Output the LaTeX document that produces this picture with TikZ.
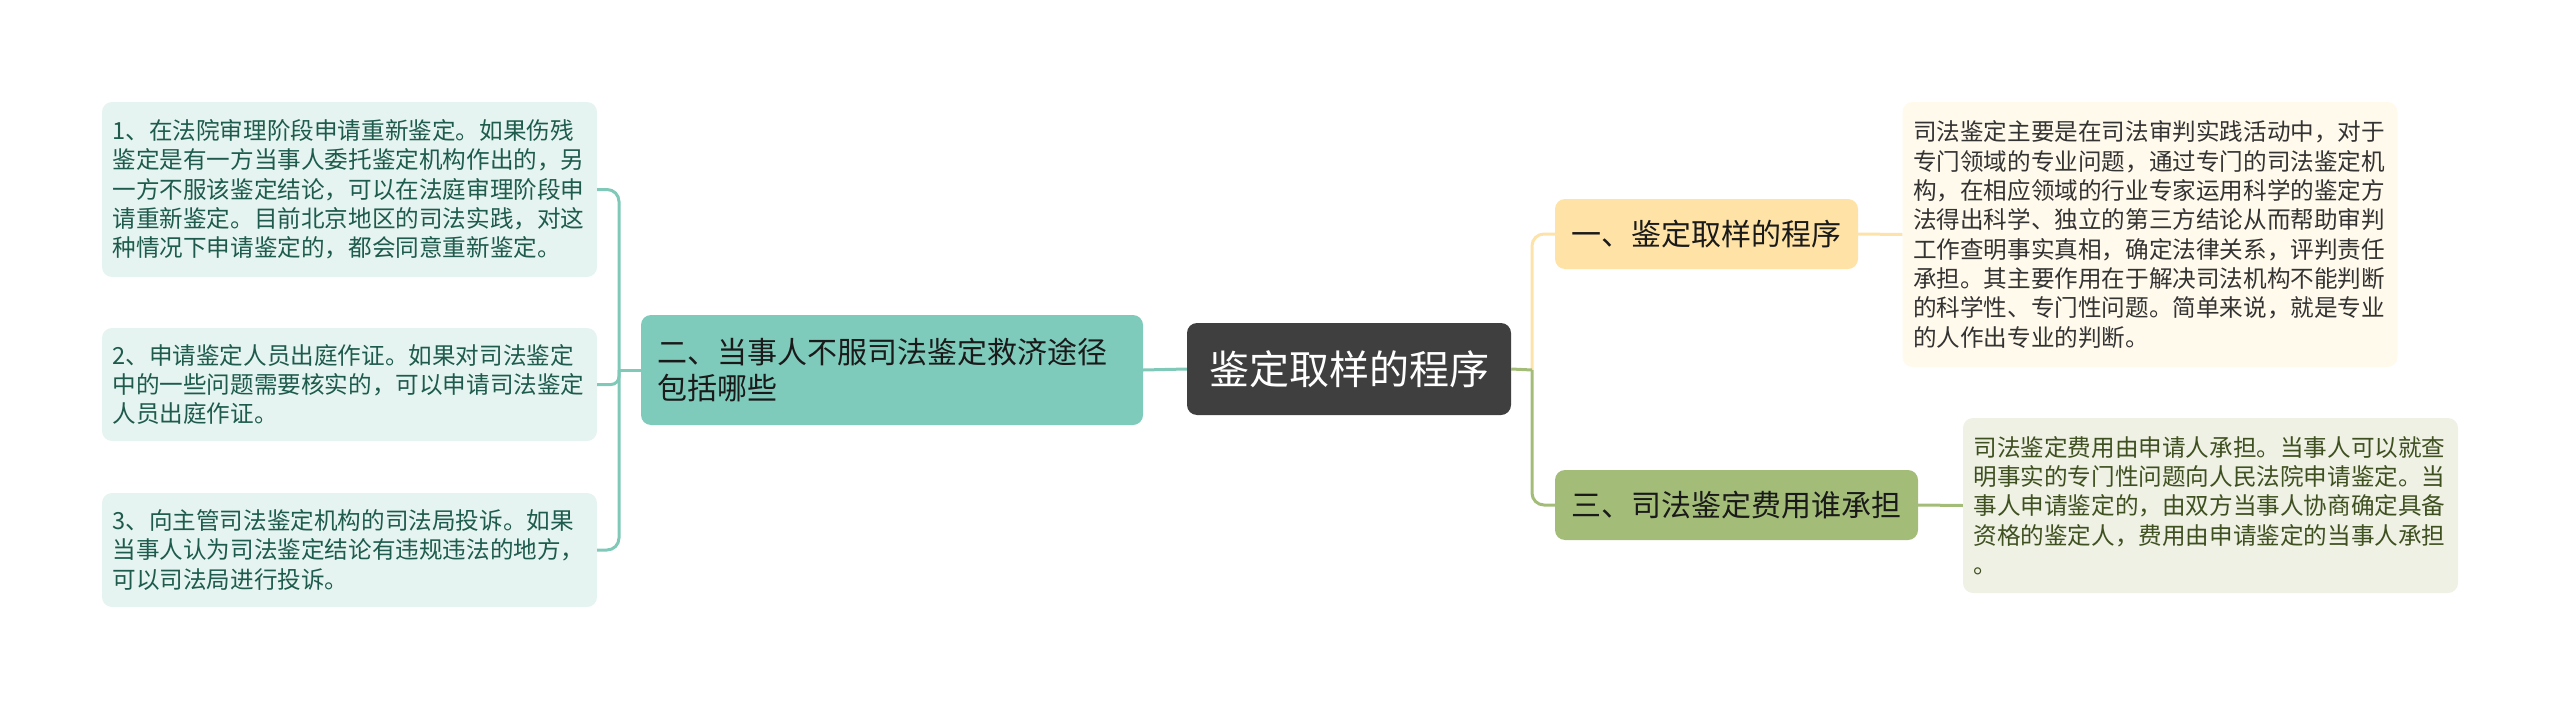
\documentclass[tikz,border=0pt]{standalone}
\usepackage{fontspec}
\setmainfont{Noto Sans CJK SC}
\definecolor{tealline}{HTML}{80C9B8}
\definecolor{tealfill}{HTML}{7FCBBB}
\definecolor{tealleaf}{HTML}{E5F4F0}
\definecolor{tealtext}{HTML}{1E5B4D}
\definecolor{rootfill}{HTML}{3F3F3F}
\definecolor{yelfill}{HTML}{FFE3A6}
\definecolor{yelline}{HTML}{FDE3AA}
\definecolor{yelleaf}{HTML}{FFFAEB}
\definecolor{yeltext}{HTML}{333333}
\definecolor{grnfill}{HTML}{A3BD79}
\definecolor{grnline}{HTML}{A3BD79}
\definecolor{grnleaf}{HTML}{EEF1E4}
\definecolor{grntext}{HTML}{3F5020}
\definecolor{branchtext}{HTML}{1A1A1A}
\tikzset{
  box/.style={rounded corners=10pt, draw=none, inner ysep=0pt},
  leafbox/.style={box, text width=474pt, inner xsep=10.5pt, align=left,
    font=\fontsize{23.6pt}{29.3pt}\selectfont},
  branchbox/.style={box, font=\fontsize{30pt}{36pt}\selectfont, text=branchtext},
  conn/.style={line width=3pt},
}
\begin{document}
\begin{tikzpicture}[x=1pt,y=-1pt]
\useasboundingbox (0,0) rectangle (2560,709);
% root
\node[box, fill=rootfill, text=white, minimum width=324pt, minimum height=92pt,
  font=\fontsize{40pt}{48pt}\selectfont] (root) at (1349,369) {鉴定取样的程序};
% left branch
\node[branchbox, fill=tealfill, minimum height=110pt, text width=470pt,
  inner xsep=16pt, align=left] (b2) at (892,370)
  {二、当事人不服司法鉴定救济途径\\包括哪些};
% left leaves
\node[leafbox, fill=tealleaf, text=tealtext, minimum height=175pt] (l1) at (349.5,189.5)
  {1、在法院审理阶段申请重新鉴定。如果伤残\\鉴定是有一方当事人委托鉴定机构作出的，另\\一方不服该鉴定结论，可以在法庭审理阶段申\\请重新鉴定。目前北京地区的司法实践，对这\\种情况下申请鉴定的，都会同意重新鉴定。};
\node[leafbox, fill=tealleaf, text=tealtext, minimum height=113pt] (l2) at (349.5,384.5)
  {2、申请鉴定人员出庭作证。如果对司法鉴定\\中的一些问题需要核实的，可以申请司法鉴定\\人员出庭作证。};
\node[leafbox, fill=tealleaf, text=tealtext, minimum height=114pt] (l3) at (349.5,550)
  {3、向主管司法鉴定机构的司法局投诉。如果\\当事人认为司法鉴定结论有违规违法的地方，\\可以司法局进行投诉。};
% right branches
\node[branchbox, fill=yelfill, minimum width=303pt, minimum height=70pt] (r1) at (1706.5,234)
  {一、鉴定取样的程序};
\node[branchbox, fill=grnfill, minimum width=363pt, minimum height=70pt] (r2) at (1736.5,505)
  {三、司法鉴定费用谁承担};
% right leaves
\node[leafbox, fill=yelleaf, text=yeltext, minimum height=265pt] (r1l) at (2150,234.5)
  {司法鉴定主要是在司法审判实践活动中，对于\\专门领域的专业问题，通过专门的司法鉴定机\\构，在相应领域的行业专家运用科学的鉴定方\\法得出科学、独立的第三方结论从而帮助审判\\工作查明事实真相，确定法律关系，评判责任\\承担。其主要作用在于解决司法机构不能判断\\的科学性、专门性问题。简单来说，就是专业\\的人作出专业的判断。};
\node[leafbox, fill=grnleaf, text=grntext, minimum height=175pt] (r2l) at (2210.5,505.5)
  {司法鉴定费用由申请人承担。当事人可以就查\\明事实的专门性问题向人民法院申请鉴定。当\\事人申请鉴定的，由双方当事人协商确定具备\\资格的鉴定人，费用由申请鉴定的当事人承担\\。};
% bus coordinates
\coordinate (lbus) at (619,370);
\coordinate (rbus) at (1532,370);
% left connectors
\draw[conn, draw=tealline] (root.west) -- (b2.east);
\draw[conn, draw=tealline] (b2.west) -- (lbus);
\draw[conn, draw=tealline, rounded corners=12pt] (lbus) |- (l1.east);
\draw[conn, draw=tealline, rounded corners=8pt] (lbus) |- (l2.east);
\draw[conn, draw=tealline, rounded corners=12pt] (lbus) |- (l3.east);
% right connectors
\draw[conn, draw=yelline, rounded corners=12pt] (rbus) |- (r1.west);
\draw[conn, draw=grnline, rounded corners=12pt] (rbus) |- (r2.west);
\draw[conn, draw=grnline] (root.east) -- (rbus);
\draw[conn, draw=yelline] (r1.east) -- (r1l.west);
\draw[conn, draw=grnline] (r2.east) -- (r2l.west);
\end{tikzpicture}
\end{document}
